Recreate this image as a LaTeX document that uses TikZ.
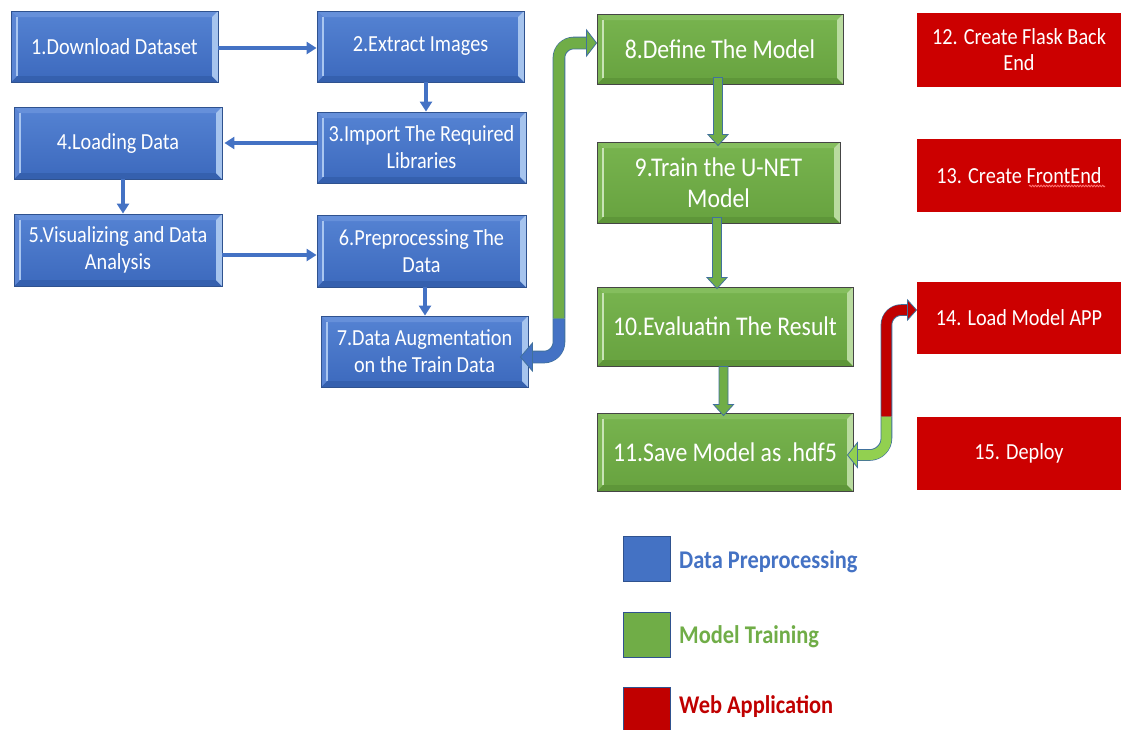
\documentclass[tikz,border=0pt]{standalone}
\usepackage{fontspec}
\setmainfont{Carlito}[FakeStretch=0.88]
\usetikzlibrary{arrows.meta,calc,decorations.pathmorphing}

\definecolor{bbody}{HTML}{4472C4}
\definecolor{btop}{HTML}{5583D3}
\definecolor{bbot}{HTML}{3C69BD}
\definecolor{bedge}{HTML}{2F528F}
\definecolor{btopst}{HTML}{6690DA}
\definecolor{bbotst}{HTML}{3560AE}
\definecolor{bleft}{HTML}{5B85D3}
\definecolor{bright}{HTML}{A6C4EE}
\definecolor{blight}{HTML}{A9C6F0}
\definecolor{gbody}{HTML}{70AD47}
\definecolor{gtop}{HTML}{78B44F}
\definecolor{gbot}{HTML}{67A23F}
\definecolor{gedge}{HTML}{454545}
\definecolor{gtopst}{HTML}{85BE5E}
\definecolor{gbotst}{HTML}{5E9639}
\definecolor{gleft}{HTML}{7DB756}
\definecolor{gright}{HTML}{B9DB9F}
\definecolor{glight}{HTML}{C8E3B5}
\definecolor{lgreen}{HTML}{92D050}
\definecolor{wred}{HTML}{CC0000}
\definecolor{dred}{HTML}{C00000}
\definecolor{aedge}{HTML}{41719C}
\definecolor{spell}{HTML}{FF7070}

\newcommand\boxfontB{\fontsize{23}{27}\selectfont}
\newcommand\boxfontG{\fontsize{27}{31}\selectfont}
\newcommand\boxfontR{\fontsize{23}{26}\selectfont}
\newcommand\legfont{\fontsize{25.5}{30}\selectfont\bfseries}

\tikzset{
  bevelpic/.style n args={5}{path picture={
    \path[fill=#1] (path picture bounding box.north west) -- ([shift={(6pt,-6pt)}]path picture bounding box.north west)
       -- ([shift={(-6pt,-6pt)}]path picture bounding box.north east) -- (path picture bounding box.north east) -- cycle;
    \path[fill=#2] (path picture bounding box.south west) -- ([shift={(6pt,6pt)}]path picture bounding box.south west)
       -- ([shift={(-6pt,6pt)}]path picture bounding box.south east) -- (path picture bounding box.south east) -- cycle;
    \path[fill=#3] (path picture bounding box.north west) -- ([shift={(6pt,-6pt)}]path picture bounding box.north west)
       -- ([shift={(6pt,6pt)}]path picture bounding box.south west) -- (path picture bounding box.south west) -- cycle;
    \path[fill=#4] (path picture bounding box.north east) -- ([shift={(-6pt,-6pt)}]path picture bounding box.north east)
       -- ([shift={(-6pt,6pt)}]path picture bounding box.south east) -- (path picture bounding box.south east) -- cycle;
    \draw[#5, line width=1.2pt] ([shift={(6pt,-6pt)}]path picture bounding box.north west) -- ([shift={(6pt,6pt)}]path picture bounding box.south west);
  }},
  blk/.style={rectangle, inner sep=0pt, align=center, text=white, line width=0.9pt},
  bluebox/.style={blk, draw=bedge, top color=btop, bottom color=bbot, font=\boxfontB,
    bevelpic={btopst}{bbotst}{bleft}{bright}{blight}},
  greenbox/.style={blk, draw=gedge, top color=gtop, bottom color=gbot, font=\boxfontG,
    bevelpic={gtopst}{gbotst}{gleft}{gright}{glight}},
  redbox/.style={blk, fill=wred, font=\boxfontR},
  barrow/.style={draw=bbody, line width=3.4pt, -{Triangle[length=10pt,width=12pt]}},
  gblk/.style={fill=gbody, draw=aedge, line width=0.8pt},
  bentout/.style={draw=aedge, line width=12.6pt, rounded corners=15pt},
  legsq/.style={rectangle, draw=bedge, line width=0.9pt, minimum width=47pt, minimum height=45pt, inner sep=0pt},
  legtxt/.style={anchor=west, inner sep=0pt, font=\legfont},
}

\begin{document}
\begin{tikzpicture}[x=1pt,y=1pt]
\useasboundingbox[fill=white] (0,0) rectangle (1121,-729);

% blue boxes
\node[bluebox, minimum width=207pt, minimum height=71pt] (b1) at (114.5,-46.5) {1.Download Dataset};
\node[bluebox, minimum width=207pt, minimum height=71pt] (b2) at (420.5,-46.5) {2.Extract Images};
\node[bluebox, minimum width=209pt, minimum height=71pt] (b3) at (421.5,-147.5) {3.Import The Required\\Libraries};
\node[bluebox, minimum width=208pt, minimum height=72pt] (b4) at (118,-143) {4.Loading Data};
\node[bluebox, minimum width=208pt, minimum height=72pt] (b5) at (118,-250) {5.Visualizing and Data\\Analysis};
\node[bluebox, minimum width=209pt, minimum height=72pt] (b6) at (421.5,-251) {6.Preprocessing The\\Data};
\node[bluebox, minimum width=207pt, minimum height=71pt] (b7) at (424.5,-351.5) {7.Data Augmentation\\on the Train Data};

% green boxes
\node[greenbox, minimum width=246pt, minimum height=70pt] (b8) at (720,-49) {8.Define The Model};
\node[greenbox, minimum width=243pt, minimum height=81pt] (b9) at (718.5,-182.5) {9.Train the U-NET\\Model};
\node[greenbox, minimum width=256pt, minimum height=79pt] (b10) at (725,-326.5) {10.Evaluatin The Result};
\node[greenbox, minimum width=256pt, minimum height=78pt] (b11) at (725,-452) {11.Save Model as .hdf5};

% red boxes
\node[redbox, minimum width=204pt, minimum height=74pt] (b12) at (1019,-50) {12. Create Flask Back\\End};
\node[redbox, minimum width=204pt, minimum height=73pt] (b13) at (1019,-175.5) {13. Create FrontEnd};
\node[redbox, minimum width=204pt, minimum height=72pt] (b14) at (1019,-318) {14. Load Model APP};
\node[redbox, minimum width=204pt, minimum height=73pt] (b15) at (1019,-453.5) {15. Deploy};
\draw[spell, line width=0.9pt, decorate, decoration={snake, amplitude=0.8pt, segment length=2.8pt}]
  ([xshift=10pt,yshift=-10.5pt]b13.center) -- ([xshift=86pt,yshift=-10.5pt]b13.center);

% blue straight arrows
\draw[barrow] ([yshift=-1.5pt]b1.east) -- ([yshift=-1.5pt]b1.east -| b2.west);
\draw[barrow] ([xshift=5.5pt]b2.south) -- ([xshift=5.5pt]b2.south |- b3.north);
\draw[barrow] (b3.west |- b4.east) -- ([xshift=2pt]b4.east);
\draw[barrow] ([xshift=5pt]b4.south) -- ([xshift=5pt]b4.south |- b5.north);
\draw[barrow] ([yshift=-5pt]b5.east) -- ([yshift=-5pt]b5.east -| b6.west);
\draw[barrow] ([xshift=3.5pt]b6.south) -- ([xshift=3.5pt]b6.south |- b7.north);

% green block arrows
\path[gblk] let \p1=([xshift=-2pt,yshift=7pt]b8.south), \p2=([yshift=-4pt]b9.north) in
  (\x1-4.5pt,\y1) -- (\x1-4.5pt,\y2+11pt) -- (\x1-10pt,\y2+11pt) -- (\x1,\y2) -- (\x1+10pt,\y2+11pt) -- (\x1+4.5pt,\y2+11pt) -- (\x1+4.5pt,\y1) -- cycle;
\path[gblk] let \p1=([xshift=-1.5pt,yshift=6pt]b9.south), \p2=([yshift=-2pt]b10.north) in
  (\x1-4.5pt,\y1) -- (\x1-4.5pt,\y2+11pt) -- (\x1-10pt,\y2+11pt) -- (\x1,\y2) -- (\x1+10pt,\y2+11pt) -- (\x1+4.5pt,\y2+11pt) -- (\x1+4.5pt,\y1) -- cycle;
\path[gblk] let \p1=([xshift=-1.5pt]b10.south), \p2=([yshift=-3pt]b11.north) in
  (\x1-4.5pt,\y1) -- (\x1-4.5pt,\y2+11pt) -- (\x1-10pt,\y2+11pt) -- (\x1,\y2) -- (\x1+10pt,\y2+11pt) -- (\x1+4.5pt,\y2+11pt) -- (\x1+4.5pt,\y1) -- cycle;

% bent arrow 7 <-> 8
\coordinate (t8) at ([yshift=6pt]b8.west);
\coordinate (t7) at ([xshift=-8pt,yshift=-5.5pt]b7.east);
\coordinate (sx) at ([xshift=30.5pt]b7.east);
\coordinate (sp) at ([yshift=-3pt]b7.north);
\draw[bentout] ([xshift=-10pt]t8) -- (sx |- t8) -- (sx |- sp);
\draw[bentout] (sx |- sp) -- (sx |- t7) -- ([xshift=12pt]t7);
\draw[draw=gbody, line width=11pt, rounded corners=14.5pt] ([xshift=-10pt]t8) -- (sx |- t8) -- (sx |- sp);
\draw[draw=bbody, line width=11pt, rounded corners=14.5pt] (sx |- sp) -- (sx |- t7) -- ([xshift=12pt]t7);
\path[gblk] ([xshift=-10pt,yshift=13pt]t8) -- (t8) -- ([xshift=-10pt,yshift=-13pt]t8) -- cycle;
\path[fill=bbody, draw=aedge, line width=0.8pt] ([xshift=12pt,yshift=14pt]t7) -- (t7) -- ([xshift=12pt,yshift=-14pt]t7) -- cycle;

% bent arrow 11 <-> 14
\coordinate (t14) at ([yshift=8pt]b14.west);
\coordinate (t11) at ([xshift=-6pt,yshift=-3pt]b11.east);
\coordinate (rx) at ([xshift=33pt]b11.east);
\coordinate (rs) at (b15.north);
\draw[bentout, line width=11.6pt] ([xshift=-9pt]t14) -- (rx |- t14) -- (rx |- rs);
\draw[bentout, line width=11.6pt, rounded corners=17pt] (rx |- rs) -- (rx |- t11) -- ([xshift=10pt]t11);
\draw[draw=dred, line width=10pt, rounded corners=14.5pt] ([xshift=-9pt]t14) -- (rx |- t14) -- (rx |- rs);
\draw[draw=lgreen, line width=10pt, rounded corners=16.5pt] (rx |- rs) -- (rx |- t11) -- ([xshift=10pt]t11);
\path[fill=dred, draw=aedge, line width=0.8pt] ([xshift=-9pt,yshift=10pt]t14) -- (t14) -- ([xshift=-9pt,yshift=-10pt]t14) -- cycle;
\path[fill=lgreen, draw=aedge, line width=0.8pt] ([xshift=10pt,yshift=12.5pt]t11) -- (t11) -- ([xshift=10pt,yshift=-12.5pt]t11) -- cycle;

% legend
\node[legsq, fill=bbody] (lq1) at (646.5,-558.5) {};
\node[legsq, fill=gbody] (lq2) at (646.5,-634.5) {};
\node[legsq, fill=dred, minimum height=47pt] (lq3) at (646.5,-710.5) {};
\node[legtxt, text=bbody] (lt1) at (679,-562) {Data Preprocessing};
\node[legtxt, text=gbody] (lt2) at (679,-637) {Model Training};
\node[legtxt, text=dred] (lt3) at (679,-707) {Web Application};
\end{tikzpicture}
\end{document}
